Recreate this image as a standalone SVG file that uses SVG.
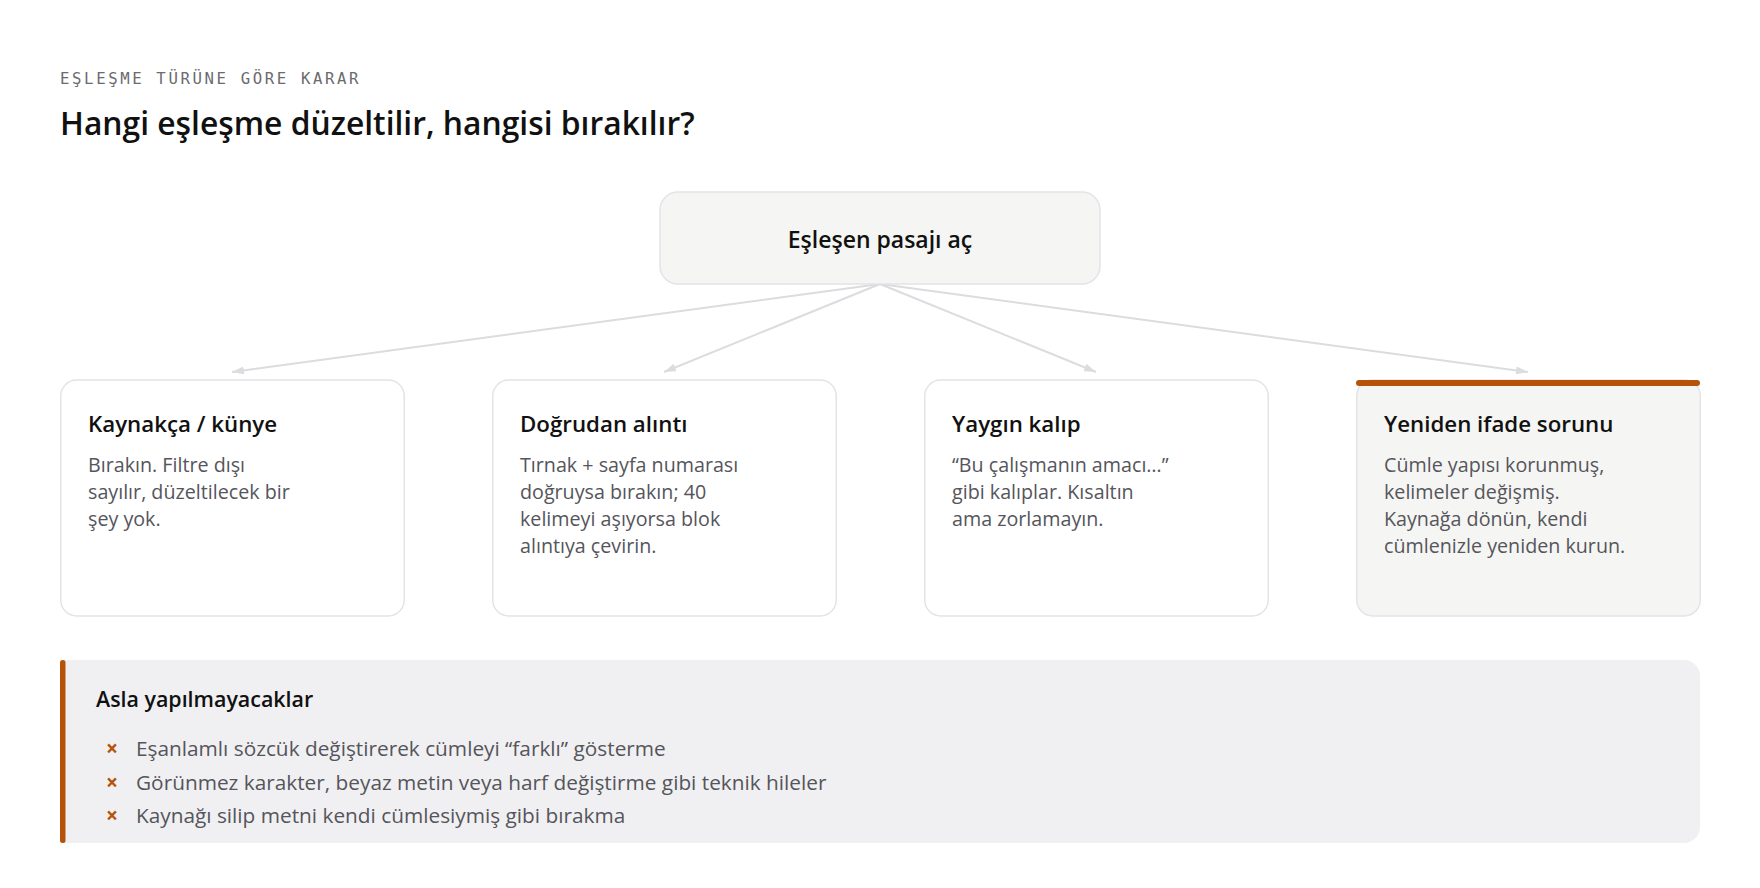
<svg xmlns="http://www.w3.org/2000/svg" width="1760" height="888" viewBox="0 0 1760 888">
  <style>
    .sans { font-family: "Open Sans", "Noto Sans", "DejaVu Sans", sans-serif; }
    .eyebrow { font-family: "DejaVu Sans Mono", "Liberation Mono", monospace; font-size: 15.7px; letter-spacing: 2.6px; fill: #6b6b70; }
    .title { font-size: 31.8px; font-weight: 600; fill: #111111; }
    .node { fill: #f5f5f3; stroke: #e4e4e7; stroke-width: 1.5; }
    .card { fill: #ffffff; stroke: #e4e4e7; stroke-width: 1.5; }
    .card.hl { fill: #f5f5f3; }
    .nodeText { font-size: 23px; font-weight: 600; fill: #111111; }
    .cardTitle { font-size: 22.3px; font-weight: 600; fill: #111111; }
    .body { font-size: 19.7px; fill: #55555b; }
    .panelTitle { font-size: 21.4px; font-weight: 600; fill: #111111; }
    .item { font-size: 20.8px; fill: #55555b; }
    .x { font-size: 21px; font-weight: 700; fill: #b45309; }
    .edge { stroke: #dcdce0; stroke-width: 2; fill: none; marker-end: url(#arrow); }
  </style>
  <defs>
    <marker id="arrow" viewBox="0 0 12 8" refX="12" refY="4" markerWidth="12" markerHeight="8" markerUnits="userSpaceOnUse" orient="auto">
      <path d="M0,0 L12,4 L0,8 Z" fill="#dcdce0"/>
    </marker>
  </defs>
  <rect width="1760" height="888" fill="#ffffff"/>

  <g id="header">
    <text class="eyebrow" x="60" y="84">EŞLEŞME TÜRÜNE GÖRE KARAR</text>
    <text class="sans title" x="60" y="135">Hangi eşleşme düzeltilir, hangisi bırakılır?</text>
  </g>

  <g id="connectors">
    <line class="edge" x1="880" y1="284" x2="232" y2="372"/>
    <line class="edge" x1="880" y1="284" x2="664" y2="372"/>
    <line class="edge" x1="880" y1="284" x2="1096" y2="372"/>
    <line class="edge" x1="880" y1="284" x2="1528" y2="372"/>
  </g>

  <g id="node-root">
    <rect class="node" x="660" y="192" width="440" height="92" rx="18"/>
    <text class="sans nodeText" x="880" y="248" text-anchor="middle">Eşleşen pasajı aç</text>
  </g>

  <g id="node-kaynakca">
    <rect class="card" x="60.75" y="380" width="343.5" height="236" rx="16"/>
    <text class="sans cardTitle" x="88" y="432">Kaynakça / künye</text>
    <text class="sans body">
      <tspan x="88" y="472">Bırakın. Filtre dışı</tspan>
      <tspan x="88" y="499">sayılır, düzeltilecek bir</tspan>
      <tspan x="88" y="526">şey yok.</tspan>
    </text>
  </g>

  <g id="node-dogrudan">
    <rect class="card" x="492.75" y="380" width="343.5" height="236" rx="16"/>
    <text class="sans cardTitle" x="520" y="432">Doğrudan alıntı</text>
    <text class="sans body">
      <tspan x="520" y="472">Tırnak + sayfa numarası</tspan>
      <tspan x="520" y="499">doğruysa bırakın; 40</tspan>
      <tspan x="520" y="526">kelimeyi aşıyorsa blok</tspan>
      <tspan x="520" y="553">alıntıya çevirin.</tspan>
    </text>
  </g>

  <g id="node-yaygin">
    <rect class="card" x="924.75" y="380" width="343.5" height="236" rx="16"/>
    <text class="sans cardTitle" x="952" y="432">Yaygın kalıp</text>
    <text class="sans body">
      <tspan x="952" y="472">“Bu çalışmanın amacı…”</tspan>
      <tspan x="952" y="499">gibi kalıplar. Kısaltın</tspan>
      <tspan x="952" y="526">ama zorlamayın.</tspan>
    </text>
  </g>

  <g id="node-yeniden">
    <rect class="card hl" x="1356.75" y="380" width="343.5" height="236" rx="16"/>
    <rect x="1356" y="380" width="344" height="6" rx="3" fill="#b45309"/>
    <text class="sans cardTitle" x="1384" y="432">Yeniden ifade sorunu</text>
    <text class="sans body">
      <tspan x="1384" y="472">Cümle yapısı korunmuş,</tspan>
      <tspan x="1384" y="499">kelimeler değişmiş.</tspan>
      <tspan x="1384" y="526">Kaynağa dönün, kendi</tspan>
      <tspan x="1384" y="553">cümlenizle yeniden kurun.</tspan>
    </text>
  </g>

  <g id="panel-never">
    <path d="M64,660 H1684 A16,16 0 0 1 1700,676 V827 A16,16 0 0 1 1684,843 H64 Z" fill="#f0f0f2"/>
    <rect x="60" y="660" width="5.5" height="183" rx="2.5" fill="#b45309"/>
    <text class="sans panelTitle" x="96" y="707">Asla yapılmayacaklar</text>
    <text class="sans x" x="112" y="756" text-anchor="middle">×</text>
    <text class="sans item" x="136" y="756">Eşanlamlı sözcük değiştirerek cümleyi “farklı” gösterme</text>
    <text class="sans x" x="112" y="790" text-anchor="middle">×</text>
    <text class="sans item" x="136" y="790">Görünmez karakter, beyaz metin veya harf değiştirme gibi teknik hileler</text>
    <text class="sans x" x="112" y="823" text-anchor="middle">×</text>
    <text class="sans item" x="136" y="823">Kaynağı silip metni kendi cümlesiymiş gibi bırakma</text>
  </g>
</svg>
